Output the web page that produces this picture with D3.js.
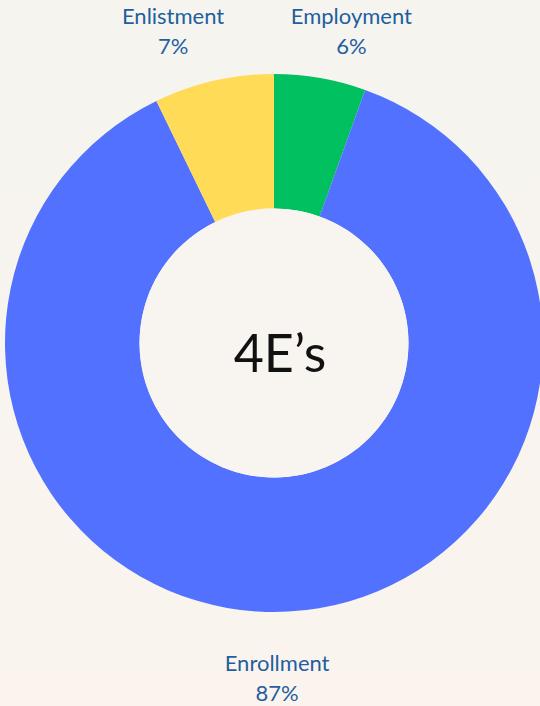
<!DOCTYPE html>
<html><head><meta charset="utf-8">
<script src="https://cdn.jsdelivr.net/npm/d3@7"></script>
<style>
html,body{margin:0;padding:0;}
body{width:540px;height:706px;overflow:hidden;}
</style></head>
<body>
<svg id="c" width="540" height="706"></svg>
<script>
const categories = ["Employment", "Enrollment", "Enlistment"];
const values = [5.5, 87.3, 7.2];
const colors = ["#00c060", "#5271ff", "#ffdb58"];
const centerLabel = "4E\u2019s";

const W = 540, H = 706, cx = 274, cy = 343, R = 269, r = 134.5;
const svg = d3.select("#c");
const defs = svg.append("defs");
const g0 = defs.append("linearGradient").attr("id","bg").attr("x1",0).attr("y1",0).attr("x2",0).attr("y2",1);
g0.append("stop").attr("offset","0%").attr("stop-color","#f5f4ef");
g0.append("stop").attr("offset","100%").attr("stop-color","#fbf4ee");
svg.append("rect").attr("width",W).attr("height",H).attr("fill","url(#bg)");

const data = categories.map((c,i)=>({name:c, value:values[i], color:colors[i]}));
const pie = d3.pie().value(d=>d.value).sort(null);
const arc = d3.arc().innerRadius(r).outerRadius(R);
const arcs = pie(data);
const g = svg.append("g").attr("transform",`translate(${cx},${cy})`);
g.selectAll("path").data(arcs).join("path").attr("d",arc).attr("fill",d=>d.data.color);

g.append("circle").attr("r",r).attr("fill","#f8f4ef");

g.append("text").attr("x",6).attr("y",29).attr("text-anchor","middle")
  .attr("font-family","Lato, 'Noto Sans', sans-serif").attr("font-size",52).attr("fill","#111")
  .text(centerLabel);

const total = d3.sum(values);
arcs.forEach(a=>{
  const mid = (a.startAngle+a.endAngle)/2;
  const top = Math.cos(mid) > 0;
  const x = Math.sin(mid) * (top ? 450 : 58);
  const y1 = top ? -319 : 328;
  const t = g.append("text").attr("text-anchor","middle")
    .attr("font-family","Lato, 'Noto Sans', sans-serif").attr("font-size",22).attr("fill","#1f5f9f");
  t.append("tspan").attr("x",x).attr("y",y1).text(a.data.name);
  t.append("tspan").attr("x",x).attr("y",y1+30).text(Math.round(a.data.value/total*100)+"%");
});
</script>
</body></html>
